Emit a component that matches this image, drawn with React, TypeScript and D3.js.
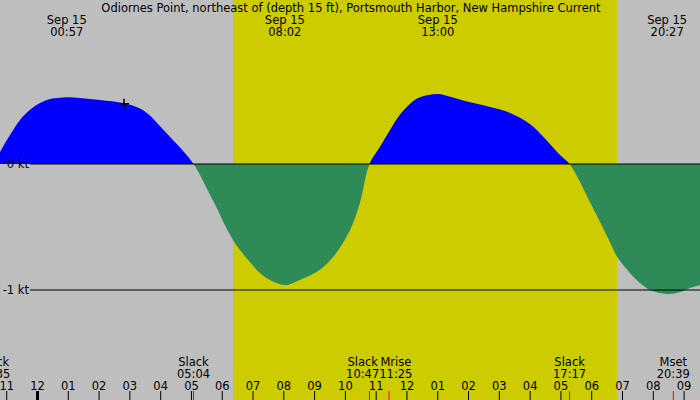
import React, { useEffect, useRef } from 'react';
import * as d3 from 'd3';

const TITLE = 'Odiornes Point, northeast of (depth 15 ft), Portsmouth Harbor, New Hampshire Current';

// hours from Sep 15 00:00, current speed in knots (+ flood / - ebb)
const curveHours = [
    -1.417, -1.218, -0.893, -0.568, -0.244, 0.081, 0.406, 0.731, 0.95, 1.38, 2.03, 2.81, 3.33, 3.65, 3.98, 4.30, 4.63, 5.067,
    5.70, 6.35, 6.90, 7.39, 8.033, 8.52, 9.17, 9.66, 10.15, 10.47, 10.783,
    11.12, 11.45, 11.77, 12.10, 12.42, 13.0, 13.40, 14.05, 14.70, 15.35, 16.0, 16.48, 16.97, 17.283,
    17.62, 17.94, 18.27, 18.59, 18.82, 19.24, 19.57, 19.89, 20.45, 20.87, 21.2, 21.52,
];
const curveKnots = [
    0, 0.095, 0.23, 0.35, 0.43, 0.484, 0.516, 0.526, 0.53, 0.524, 0.508, 0.482, 0.44, 0.385, 0.30, 0.216, 0.13, 0,
    -0.29, -0.603, -0.778, -0.897, -0.96, -0.92, -0.84, -0.72, -0.524, -0.31, 0,
    0.135, 0.27, 0.39, 0.478, 0.53, 0.556, 0.534, 0.49, 0.452, 0.405, 0.315, 0.203, 0.071, 0,
    -0.143, -0.302, -0.46, -0.62, -0.735, -0.865, -0.944, -1.0, -1.032, -1.016, -0.984, -0.96,
];

// max flood / max ebb labels
const peakHours = [0.95, 8.033, 13.0, 20.45];
const peakDates = ['Sep 15', 'Sep 15', 'Sep 15', 'Sep 15'];
const peakTimes = ['00:57', '08:02', '13:00', '20:27'];

// slack + moon events along the bottom
const eventHours = [-1.417, 5.067, 10.783, 11.417, 17.283, 20.65];
const eventNames = ['Slack', 'Slack', 'Slack', 'Mrise', 'Slack', 'Mset'];
const eventTimes = ['22:35', '05:04', '10:47', '11:25', '17:17', '20:39'];

const hourTicks = [-1, 0, 1, 2, 3, 4, 5, 6, 7, 8, 9, 10, 11, 12, 13, 14, 15, 16, 17, 18, 19, 20, 21];
const hourLabels = ['11', '12', '01', '02', '03', '04', '05', '06', '07', '08', '09', '10', '11', '12', '01', '02', '03', '04', '05', '06', '07', '08', '09'];

const knotTicks = [0, -1];
const knotLabels = ['0 kt', '-1 kt'];

const sunrise = 6.35;
const sunset = 18.82;
const markerHour = 2.81;
const markerKnots = 0.478;

const W = 700;
const H = 400;
const FONT = '"DejaVu Sans", sans-serif';
const FS = 11.5;

const App: React.FC = () => {
    const svgRef = useRef<SVGSVGElement>(null);

    useEffect(() => {
        if (!svgRef.current) return;
        const svg = d3.select(svgRef.current);
        svg.selectAll('*').remove();

        const x = d3.scaleLinear().domain([-1.218, 21.517]).range([0, W]);
        const y = d3.scaleLinear().domain([0, -1]).range([164, 290]);
        const zeroY = y(0);

        const pts = curveHours.map((h, i) => ({ h, v: curveKnots[i] }));

        // background + daylight
        svg.append('rect').attr('width', W).attr('height', H).attr('fill', '#bebebe');
        svg.append('rect')
            .attr('x', x(sunrise)).attr('y', 0)
            .attr('width', x(sunset) - x(sunrise)).attr('height', H)
            .attr('fill', '#cccc00');

        // clip paths for flood / ebb
        const defs = svg.append('defs');
        defs.append('clipPath').attr('id', 'above').append('rect')
            .attr('x', 0).attr('y', 0).attr('width', W).attr('height', zeroY);
        defs.append('clipPath').attr('id', 'below').append('rect')
            .attr('x', 0).attr('y', zeroY).attr('width', W).attr('height', H - zeroY);

        const area = d3.area<{ h: number; v: number }>()
            .x(d => x(d.h))
            .y0(zeroY)
            .y1(d => y(d.v))
            .curve(d3.curveCatmullRom.alpha(0.5));

        svg.append('path').datum(pts).attr('d', area).attr('fill', '#0000ff').attr('clip-path', 'url(#above)');
        svg.append('path').datum(pts).attr('d', area).attr('fill', '#2e8b57').attr('clip-path', 'url(#below)');

        // knot lines + labels
        knotTicks.forEach((k, i) => {
            svg.append('line')
                .attr('x1', 30).attr('x2', W)
                .attr('y1', y(k)).attr('y2', y(k))
                .attr('stroke', '#000').attr('stroke-width', 1.2);
            svg.append('text')
                .attr('x', 29).attr('y', y(k) + 4)
                .attr('text-anchor', 'end')
                .attr('font-family', FONT).attr('font-size', FS)
                .attr('fill', '#000')
                .text(knotLabels[i]);
        });

        // marker
        const mx = x(markerHour);
        const my = y(markerKnots);
        svg.append('path')
            .attr('d', `M${mx - 5},${my}H${mx + 5}M${mx},${my - 5}V${my + 5}`)
            .attr('stroke', '#000').attr('stroke-width', 1.5);

        // title
        svg.append('text')
            .attr('x', W / 2 + 1).attr('y', 12)
            .attr('text-anchor', 'middle')
            .attr('font-family', FONT).attr('font-size', FS)
            .text(TITLE);

        // peak labels
        peakHours.forEach((h, i) => {
            const g = svg.append('g').attr('font-family', FONT).attr('font-size', FS).attr('text-anchor', 'middle');
            g.append('text').attr('x', x(h)).attr('y', 24).text(peakDates[i]);
            g.append('text').attr('x', x(h)).attr('y', 36).text(peakTimes[i]);
        });

        // hour ticks
        hourTicks.forEach((h, i) => {
            svg.append('line')
                .attr('x1', x(h)).attr('x2', x(h))
                .attr('y1', 391).attr('y2', H)
                .attr('stroke', '#000')
                .attr('stroke-width', h === 0 ? 3 : 1);
            svg.append('text')
                .attr('x', x(h)).attr('y', 389.5)
                .attr('text-anchor', 'middle')
                .attr('font-family', FONT).attr('font-size', FS)
                .text(hourLabels[i]);
        });

        // events: red ticks + labels, pushed apart where they collide
        eventHours.forEach(h => {
            svg.append('line')
                .attr('x1', x(h)).attr('x2', x(h))
                .attr('y1', 391).attr('y2', H)
                .attr('stroke', '#ff0000').attr('stroke-width', 1);
        });

        const evG = eventHours.map((h, i) => {
            const g = svg.append('g').attr('font-family', FONT).attr('font-size', FS).attr('text-anchor', 'middle');
            const t1 = g.append('text').attr('y', 366).text(eventNames[i]);
            const t2 = g.append('text').attr('y', 378).text(eventTimes[i]);
            const w = Math.max(
                (t1.node() as SVGTextElement).getComputedTextLength(),
                (t2.node() as SVGTextElement).getComputedTextLength(),
            );
            return { g, cx: x(h), w };
        });
        for (let i = 1; i < evG.length; i++) {
            const a = evG[i - 1];
            const b = evG[i];
            const need = (a.w + b.w) / 2;
            const gap = b.cx - a.cx;
            if (gap < need) {
                const push = (need - gap) / 2;
                a.cx -= push;
                b.cx += push;
            }
        }
        evG.forEach(e => e.g.selectAll('text').attr('x', e.cx));
    }, []);

    return (
        <div style={{ position: 'fixed', left: 0, top: 0, width: W, height: H }}>
            <svg ref={svgRef} width={W} height={H} style={{ display: 'block' }} />
        </div>
    );
};

export default App;
